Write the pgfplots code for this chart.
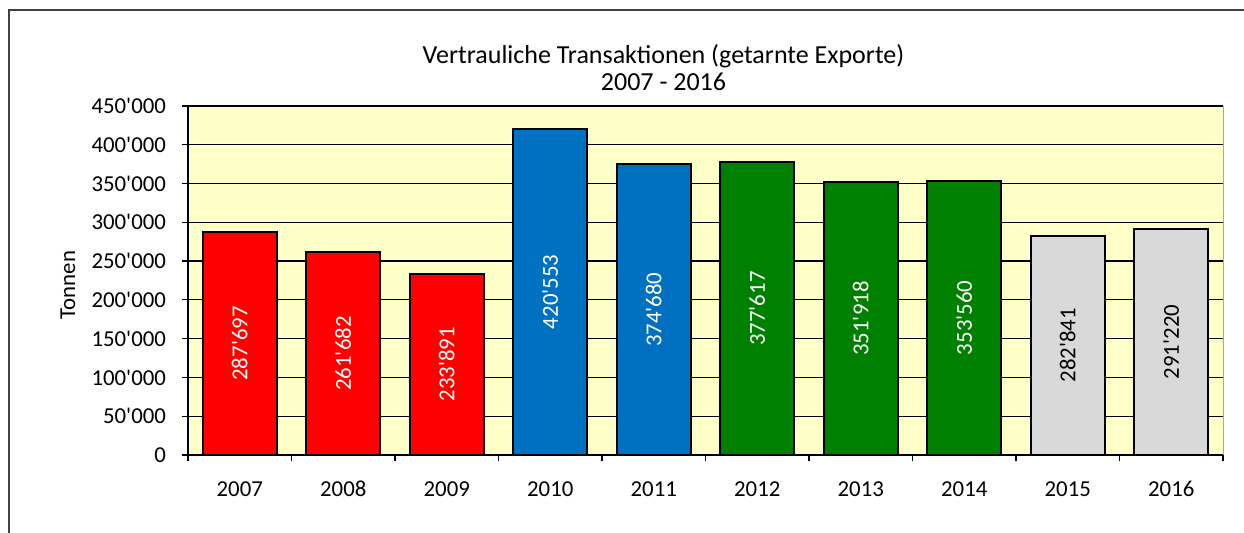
\documentclass[border=0pt]{standalone}
\usepackage{fontspec}
\setmainfont{Carlito}[Ligatures=TeXOff]
\usepackage{pgfplots}
\pgfplotsset{compat=1.18}
\definecolor{bgyellow}{HTML}{FFFFC8}
\definecolor{barred}{HTML}{FF0000}
\definecolor{barblue}{HTML}{0070C0}
\definecolor{bargreen}{HTML}{008000}
\definecolor{bargrey}{HTML}{D9D9D9}
\newcommand{\cf}{\fontsize{11.4}{13}\selectfont}
\newcommand{\tf}{\fontsize{13}{15}\selectfont}
\begin{document}
\begin{tikzpicture}[x=1pt,y=1pt]
\useasboundingbox (0,0) rectangle (622,266.5);
\draw[line width=1.3pt, black!75] (4.5,0) -- (4.5,261.5) -- (622,261.5);
\node[font=\tf, anchor=base] at (331.75,234.5) {Vertrauliche Transaktionen (getarnte Exporte)};
\node[font=\tf, anchor=base] at (331.75,221.2) {2007 - 2016};
\node[font=\cf, rotate=90] at (34,124) {Tonnen};
\begin{axis}[
  at={(94pt,39pt)}, anchor=south west,
  scale only axis, width=517.5pt, height=174.5pt,
  xmin=-0.5, xmax=9.5, ymin=0, ymax=450000,
  scaled y ticks=false,
  ytick={0,50000,100000,150000,200000,250000,300000,350000,400000,450000},
  yticklabels={0,50'000,100'000,150'000,200'000,250'000,300'000,350'000,400'000,450'000},
  ymajorgrids, grid style={black, line width=0.6pt},
  xtick={0,...,9}, xticklabels={2007,2008,2009,2010,2011,2012,2013,2014,2015,2016},
  major x tick style={draw=none},
  minor xtick={-0.5,0.5,...,9.5},
  tick align=outside, tick style={black, line width=0.6pt},
  major tick length=3pt, minor tick length=3pt,
  tick label style={font=\cf},
  xticklabel style={text height=8pt, text depth=0pt, yshift=-6pt},
  yticklabel style={xshift=-4.5pt},
  axis x line*=bottom, axis y line*=left,
  axis line style={-, black, line width=0.6pt},
  axis background/.style={fill=bgyellow, draw=gray!70},
  clip=false,
]
\addplot[ybar, bar width=37pt, bar shift=0pt, fill=barred, draw=black, line width=1pt] coordinates {(0,287697) (1,261682) (2,233891)};
\addplot[ybar, bar width=37pt, bar shift=0pt, fill=barblue, draw=black, line width=1pt] coordinates {(3,420553) (4,374680)};
\addplot[ybar, bar width=37pt, bar shift=0pt, fill=bargreen, draw=black, line width=1pt] coordinates {(5,377617) (6,351918) (7,353560)};
\addplot[ybar, bar width=37pt, bar shift=0pt, fill=bargrey, draw=black, line width=1pt] coordinates {(8,282841) (9,291220)};
\addplot[only marks, mark=none, point meta=explicit symbolic, nodes near coords={\pgfplotspointmeta},
  every node near coord/.append style={rotate=90, anchor=center, text=white, font=\cf}]
  table[meta=label] {
x y label
0 143848 287'697
1 130841 261'682
2 116946 233'891
3 210277 420'553
4 187340 374'680
5 188809 377'617
6 175959 351'918
7 176780 353'560
};
\addplot[only marks, mark=none, point meta=explicit symbolic, nodes near coords={\pgfplotspointmeta},
  every node near coord/.append style={rotate=90, anchor=center, text=black, font=\cf}]
  table[meta=label] {
x y label
8 141420 282'841
9 145610 291'220
};
\end{axis}
\end{tikzpicture}
\end{document}
